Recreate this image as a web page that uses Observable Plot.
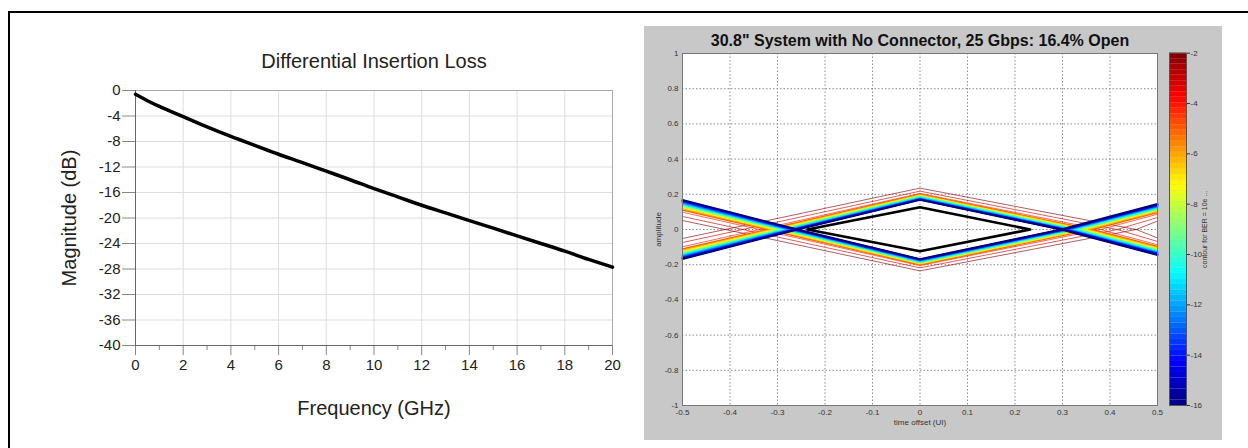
<!DOCTYPE html>
<html><head><meta charset="utf-8">
<script src="https://cdn.jsdelivr.net/npm/d3@7"></script>
<script src="https://cdn.jsdelivr.net/npm/@observablehq/plot@0.6"></script>
<style>
html,body{margin:0;padding:0;background:#fff;}
#root{position:relative;width:1248px;height:448px;overflow:hidden;font-family:"Liberation Sans",Arial,sans-serif;}
#frame{position:absolute;left:8px;top:11px;width:1300px;height:500px;border-top:2px solid #000;border-left:2px solid #000;}
#panel{position:absolute;left:644px;top:26px;width:578px;height:414px;background:#c8c8c8;}
</style></head><body><div id="root"><div id="frame"></div><div id="panel"></div></div>
<script>
// ---------- Left chart data ----------
const leftTitle = "Differential Insertion Loss";
const leftXLabel = "Frequency (GHz)";
const leftYLabel = "Magnitude (dB)";
const freqGHz = [0,0.5,1,1.5,2,3,4,5,6,7,8,9,10,11,12,13,14,15,16,17,18,19,20];
const lossDb  = [-0.6,-1.6,-2.5,-3.3,-4.1,-5.7,-7.2,-8.6,-10.0,-11.3,-12.65,-14.0,-15.4,-16.7,-18.0,-19.2,-20.4,-21.6,-22.8,-24.0,-25.2,-26.5,-27.7];
const freqMajorTicks = [0,2,4,6,8,10,12,14,16,18,20];
const freqMinorTicks = [1,3,5,7,9,11,13,15,17,19];
const dbTicks = [0,-4,-8,-12,-16,-20,-24,-28,-32,-36,-40];

// ---------- Right chart data ----------
const rightTitle = "30.8\" System with No Connector, 25 Gbps: 16.4% Open";
const rightXLabel = "time offset (UI)";
const rightYLabel = "amplitude";
const cbLabel = "contour for BER = 10e ...";
const timeTicks = [-0.5,-0.4,-0.3,-0.2,-0.1,0,0.1,0.2,0.3,0.4,0.5];
const ampTicks = [-1,-0.8,-0.6,-0.4,-0.2,0,0.2,0.4,0.6,0.8,1];
const cbTicks = [-16,-14,-12,-10,-8,-6,-4,-2];
const berLevels    = [-16,-15,-14,-13,-12,-11,-10,-9,-8,-7,-6,-5,-4,-3,-2];
const peakAmp      = [0.168,0.170,0.172,0.175,0.178,0.181,0.184,0.187,0.190,0.193,0.196,0.200,0.205,0.218,0.235];
const leftEdgeAmp  = [0.168,0.164,0.160,0.155,0.150,0.145,0.140,0.135,0.130,0.124,0.118,0.111,0.098,0.074,0.051];
const leftCross    = [-0.258,-0.262,-0.266,-0.271,-0.276,-0.281,-0.287,-0.293,-0.299,-0.306,-0.313,-0.322,-0.338,-0.373,-0.410];
const rightCross   = [0.297,0.301,0.305,0.310,0.315,0.320,0.326,0.332,0.338,0.345,0.352,0.362,0.380,0.415,0.455];
const rightEdgeAmp = [0.145,0.141,0.137,0.133,0.129,0.125,0.121,0.117,0.113,0.108,0.103,0.097,0.087,0.068,0.048];
const eyeT = [-0.237, 0, 0.232, 0, -0.237];
const eyeA = [0, 0.126, 0, -0.124, 0];

// ---------- build tables ----------
const lossRows = freqGHz.map((f,i)=>({f, db: lossDb[i]}));
const traces = [];
for (let i = berLevels.length-1; i >= 0; --i) {
  for (const s of [1,-1]) {
    const id = berLevels[i] + "_" + s;
    const pts = [[-0.5, s*leftEdgeAmp[i]],[leftCross[i],0],[0,-s*peakAmp[i]],[rightCross[i],0],[0.5, s*rightEdgeAmp[i]]];
    const kind = berLevels[i] >= -4 ? "thin" : berLevels[i] <= -15 ? "blue" : "mid";
    for (const [t,a] of pts) traces.push({id, level: berLevels[i], t, a, kind});
  }
}
const eyeRows = eyeT.map((t,i)=>({t, a: eyeA[i]}));

const jet = {type:"linear", domain:[-16,-14.25,-10.75,-7.25,-3.75,-2],
  range:["#00007f","#0000ff","#00ffff","#ffff00","#ff0000","#7f0000"], interpolate:"rgb"};

const root = document.getElementById("root");
function place(el, x, y){ el.style.position="absolute"; el.style.left=x+"px"; el.style.top=y+"px"; root.appendChild(el); }
const fmt = d => String(d);

// ---------- left chart ----------
const leftPlot = Plot.plot({
  width: 640, height: 448,
  marginLeft: 135, marginRight: 28, marginTop: 90, marginBottom: 103,
  style: {background:"transparent", fontFamily:"'Liberation Sans', Arial, sans-serif", color:"#222", overflow:"visible"},
  x: {domain:[0,20]}, y: {domain:[-40,0]},
  marks: [
    Plot.gridX(freqMajorTicks, {stroke:"#dedede", strokeOpacity:1}),
    Plot.gridY(dbTicks, {stroke:"#dedede", strokeOpacity:1}),
    Plot.frame({stroke:"#aaa"}),
    Plot.axisY(dbTicks, {tickSize:13, tickPadding:2, fontSize:15, tickFormat:fmt, label:null, stroke:"#888", fill:"#222"}),
    Plot.axisX(freqMajorTicks, {tickSize:10, tickPadding:4, fontSize:15, tickFormat:fmt, label:null, stroke:"#888", fill:"#222"}),
    Plot.axisX(freqMinorTicks, {tickSize:5, tickFormat:()=>"", label:null, stroke:"#888"}),
    Plot.ruleX([0], {stroke:"#666"}),
    Plot.ruleY([-40], {stroke:"#666"}),
    Plot.line(lossRows, {x:"f", y:"db", stroke:"#000", strokeWidth:3.5, curve:"monotone-x"}),
    Plot.text([leftTitle], {frameAnchor:"top", dy:-29, fontSize:20, textAnchor:"middle", lineAnchor:"middle", fill:"#222"}),
    Plot.text([leftXLabel], {frameAnchor:"bottom", dy:63, fontSize:20, textAnchor:"middle", lineAnchor:"middle", fill:"#222"}),
    Plot.text([leftYLabel], {frameAnchor:"left", dx:-66, rotate:-90, fontSize:20, textAnchor:"middle", lineAnchor:"middle", fill:"#222"})
  ]
});
place(leftPlot, 0, 0);

// ---------- right chart (eye) ----------
const rightPlot = Plot.plot({
  width: 578, height: 414,
  marginLeft: 38, marginRight: 65, marginTop: 27, marginBottom: 35,
  style: {background:"transparent", fontFamily:"'Liberation Sans', Arial, sans-serif", overflow:"visible"},
  x: {domain:[-0.5,0.5]}, y: {domain:[-1,1]},
  color: jet,
  marks: [
    Plot.frame({fill:"white", stroke:null}),
    Plot.gridX(timeTicks, {stroke:"#8a8a8a", strokeOpacity:1, strokeDasharray:"1.5,2"}),
    Plot.gridY(ampTicks, {stroke:"#8a8a8a", strokeOpacity:1, strokeDasharray:"1.5,2"}),
    Plot.line(traces.filter(d=>d.kind==="thin"), {x:"t", y:"a", z:"id", stroke:"level", strokeWidth:0.9, strokeOpacity:0.7}),
    Plot.line(traces.filter(d=>d.kind==="mid"), {x:"t", y:"a", z:"id", stroke:"level", strokeWidth:1.6}),
    Plot.line(traces.filter(d=>d.kind==="blue"), {x:"t", y:"a", z:"id", stroke:"level", strokeWidth:1.9}),
    Plot.line(eyeRows, {x:"t", y:"a", stroke:"#000", strokeWidth:2.6}),
    Plot.frame({stroke:"#777"}),
    Plot.axisX(timeTicks, {tickSize:0, tickPadding:4, fontSize:8, tickFormat:fmt, label:null, fill:"#333"}),
    Plot.axisY(ampTicks, {tickSize:0, tickPadding:4, fontSize:8, tickFormat:fmt, label:null, fill:"#333"}),
    Plot.text([rightTitle], {frameAnchor:"top", dy:-13, fontSize:16, fontWeight:"bold", textAnchor:"middle", lineAnchor:"middle", fill:"#111"}),
    Plot.text([rightXLabel], {frameAnchor:"bottom", dy:17, fontSize:8, textAnchor:"middle", lineAnchor:"middle", fill:"#333"}),
    Plot.text([rightYLabel], {frameAnchor:"left", dx:-24, rotate:-90, fontSize:8, textAnchor:"middle", lineAnchor:"middle", fill:"#333"})
  ]
});
place(rightPlot, 644, 26);

// ---------- colorbar ----------
const cbSteps = d3.range(64).map(i => -16 + i*14/64);
const cbPlot = Plot.plot({
  width: 60, height: 400,
  marginLeft: 9, marginRight: 34, marginTop: 12.7, marginBottom: 35,
  style: {background:"transparent", fontFamily:"'Liberation Sans', Arial, sans-serif", overflow:"visible"},
  x: {domain:[0,1], axis:null}, y: {domain:[-16,-2], axis:null},
  color: jet,
  marks: [
    Plot.rect(cbSteps, {x1:0, x2:1, y1:d=>d, y2:d=>d+14/64, fill:d=>d+7/64, inset:0}),
    Plot.frame({stroke:"#555"}),
    Plot.axisY(cbTicks, {anchor:"right", tickSize:3, tickPadding:1, fontSize:8, tickFormat:fmt, label:null, fill:"#333", stroke:"#333"}),
    Plot.text([cbLabel], {frameAnchor:"right", dx:18, rotate:-90, fontSize:7, textAnchor:"middle", lineAnchor:"middle", fill:"#333"})
  ]
});
place(cbPlot, 1160, 40);
</script></body></html>
